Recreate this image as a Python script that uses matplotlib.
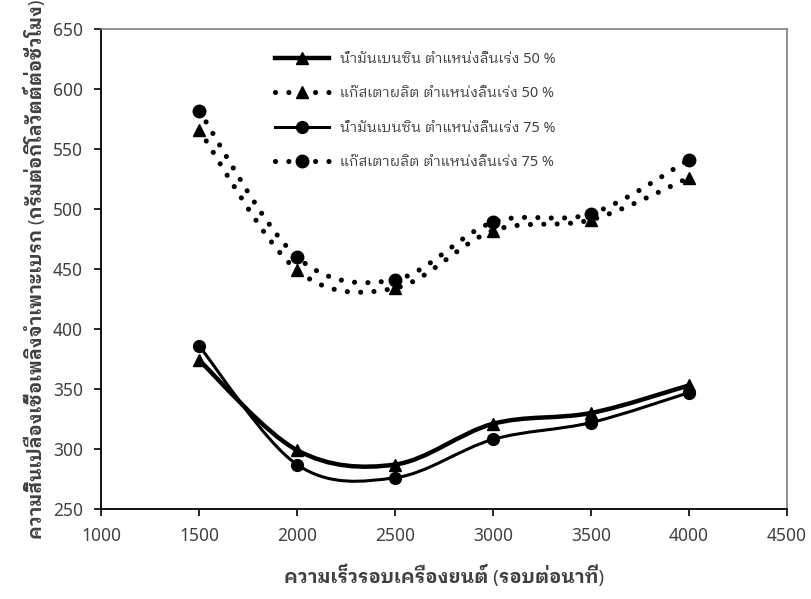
import numpy as np
import matplotlib
matplotlib.use("Agg")
import matplotlib.pyplot as plt
from matplotlib.path import Path
from matplotlib.patches import PathPatch
from matplotlib.lines import Line2D

plt.rcParams['font.family'] = ['Noto Sans', 'IBM Plex Sans Thai Looped', 'Noto Sans Thai Looped', 'DejaVu Sans']

# ความเร็วรอบ (รอบต่อนาที)
rpm = [1500, 2000, 2500, 3000, 3500, 4000]

# bsfc (g/kWh)
benzin_50 = [374, 299, 287, 321, 330, 353]
gas_50 = [566, 449, 434, 482, 491, 526]
benzin_75 = [386, 287, 276, 308, 322, 347]
gas_75 = [582, 460, 441, 489, 496, 541]

labels = ["น้ำมันเบนซิน ตำแหน่งลิ้นเร่ง 50 %",
          "แก๊สเตาผลิต ตำแหน่งลิ้นเร่ง 50 %",
          "น้ำมันเบนซิน ตำแหน่งลิ้นเร่ง 75 %",
          "แก๊สเตาผลิต ตำแหน่งลิ้นเร่ง 75 %"]


def smooth_path(x, y):
    # excel style smoothed line -> cubic bezier segments
    p = np.column_stack([x, y]).astype(float)
    ext = np.vstack([p[0], p, p[-1]])
    verts = [p[0]]
    codes = [Path.MOVETO]
    for i in range(len(p) - 1):
        a, b, c, d = ext[i], ext[i + 1], ext[i + 2], ext[i + 3]
        verts += [b + (c - a) / 6.0, c - (d - b) / 6.0, c]
        codes += [Path.CURVE4] * 3
    return Path(verts, codes)


dots = (0, (0.001, 2.6))
styles = [
    dict(ls='-', lw=3.2, marker='^', ms=8),
    dict(ls=dots, lw=3.7, marker='^', ms=8),
    dict(ls='-', lw=2.2, marker='o', ms=8.5),
    dict(ls=dots, lw=3.7, marker='o', ms=9),
]
series = [benzin_50, gas_50, benzin_75, gas_75]

fig = plt.figure(figsize=(8.12, 5.99), dpi=100)
ax = fig.add_axes([0.1244, 0.1503, 0.8448, 0.8013])

handles = []
for ys, st in zip(series, styles):
    ax.add_patch(PathPatch(smooth_path(rpm, ys), fill=False, edgecolor='black',
                           lw=st['lw'], linestyle=st['ls'], capstyle='round', zorder=2))
    ax.plot(rpm, ys, ls='none', marker=st['marker'], ms=st['ms'], color='black', zorder=3)
    handles.append(Line2D([], [], color='black', lw=st['lw'], linestyle=st['ls'],
                          dash_capstyle='round', marker=st['marker'], ms=st['ms']))

ax.set_xlim(1000, 4500)
ax.set_ylim(250, 650)
ax.set_xticks(np.arange(1000, 4501, 500))
ax.set_yticks(np.arange(250, 651, 50))
ax.tick_params(direction='out', length=5, width=1.2, labelsize=12.5,
               labelcolor='#404040', pad=8)
for s in ['left', 'bottom']:
    ax.spines[s].set_linewidth(1.3)
    ax.spines[s].set_color('black')
for s in ['top', 'right']:
    ax.spines[s].set_linewidth(1.2)
    ax.spines[s].set_color('#7f7f7f')

ax.set_xlabel("ความเร็วรอบเครื่องยนต์ (รอบต่อนาที)", fontsize=13.5,
              fontweight='bold', color='#404040', labelpad=14)
ax.set_ylabel("ความสิ้นเปลืองเชื้อเพลิงจำเพาะเบรก (กรัมต่อกิโลวัตต์ต่อชั่วโมง)",
              fontsize=13.4, fontweight='bold', color='#404040', labelpad=5)

ax.legend(handles, labels, loc='upper left', bbox_to_anchor=(0.235, 0.98),
          frameon=False, fontsize=10.4, handlelength=3.7, labelspacing=1.35,
          labelcolor='#404040')

fig.savefig("out.png")
